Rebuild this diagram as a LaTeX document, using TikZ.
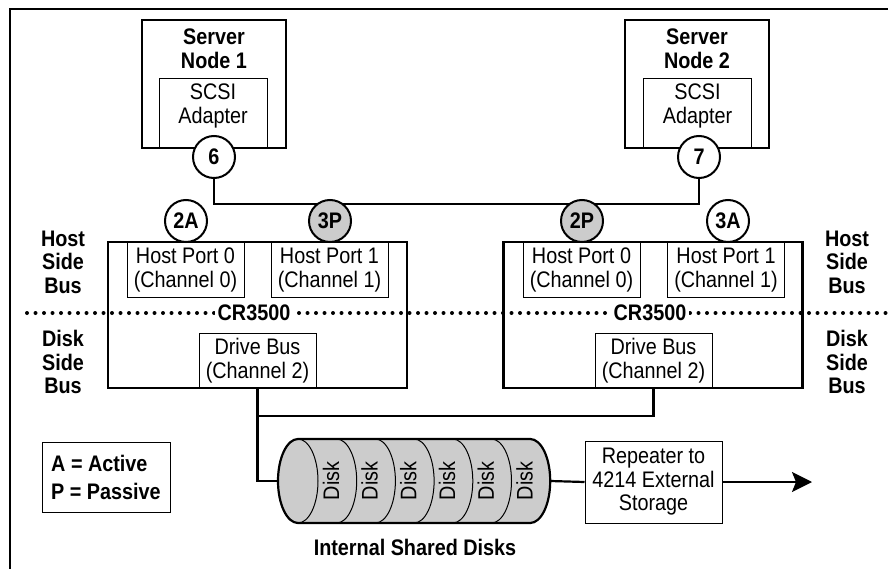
\documentclass[tikz,border=0pt]{standalone}
\usepackage{fontspec}
\setmainfont{Liberation Sans}[FakeStretch=0.88]
\usetikzlibrary{arrows.meta, positioning}
\definecolor{diskgray}{gray}{0.80}

\begin{document}
\begin{tikzpicture}[x=1pt, y=-1pt,
    every node/.style={font=\fontsize{22.5}{23.5}\selectfont, inner sep=0pt},
    lbl/.style={font=\fontsize{22.5}{23.5}\selectfont\bfseries, align=center},
    txt/.style={align=center},
    srvbox/.style={draw, line width=2.2pt, minimum width=144pt, minimum height=128pt},
    adpbox/.style={draw, line width=1pt, minimum width=108pt, minimum height=69pt},
    ctrlbox/.style={draw, line width=2.2pt, minimum width=299pt, minimum height=146pt},
    portbox/.style={draw, line width=1pt, align=center, minimum width=117pt, minimum height=54pt},
    pcirc/.style={draw, circle, line width=2pt, minimum size=42pt, fill=white,
      font=\fontsize{22.5}{23.5}\selectfont\bfseries},
    pcircp/.style={pcirc, fill=diskgray},
    busline/.style={line width=2.2pt},
    dotline/.style={line width=4pt, dash pattern=on 0pt off 8.5pt, line cap=round}]

  \useasboundingbox (0,0) rectangle (888,569);
  \draw[line width=2.2pt] (10,569) -- (10,9) -- (888,9);

  % server nodes
  \node[srvbox] (srv1) at (214,84) {};
  \node[lbl] (srv1t) at (214,49) {Server\\Node 1};
  \node[adpbox] (adp1) at (213,113.5) {};
  \node[txt] (adp1t) at (213,106) {SCSI\\Adapter};
  \node[srvbox] (srv2) at (697,84) {};
  \node[lbl] (srv2t) at (697,49) {Server\\Node 2};
  \node[adpbox] (adp2) at (697.5,113.5) {};
  \node[txt] (adp2t) at (697.5,106) {SCSI\\Adapter};

  % controllers
  \node[ctrlbox] (ctrl1) at (257.5,315) {};
  \node[ctrlbox] (ctrl2) at (653,315) {};
  \node[portbox] (hp10) at (185.5,270) {Host Port 0\\(Channel 0)};
  \node[portbox] (hp11) at (329.5,270) {Host Port 1\\(Channel 1)};
  \node[portbox] (hp20) at (581.5,270) {Host Port 0\\(Channel 0)};
  \node[portbox] (hp21) at (726,270) {Host Port 1\\(Channel 1)};
  \node[portbox, minimum height=55pt] (drv1) at (257.5,360.5) {Drive Bus\\(Channel 2)};
  \node[portbox, minimum height=55pt] (drv2) at (653.5,360.5) {Drive Bus\\(Channel 2)};

  % host side / disk side divider
  \coordinate (dotL) at (27,313);
  \coordinate (dotR) at (888,313);
  \draw[dotline] (dotL) -- (dotR);
  \node[lbl, fill=white, inner xsep=3pt] (cr1) at (254,313) {CR3500};
  \node[lbl, fill=white, inner xsep=3pt] (cr2) at (650,313) {CR3500};

  \node[lbl] (hsbL) at (63,262) {Host\\Side\\Bus};
  \node[lbl] (hsbR) at (847,262) {Host\\Side\\Bus};
  \node[lbl] (dsbL) at (63,362) {Disk\\Side\\Bus};
  \node[lbl] (dsbR) at (847,362) {Disk\\Side\\Bus};

  % scsi bus
  \coordinate (b6) at (214,204);
  \coordinate (b7) at (699,204);
  \draw[busline] (srv1.south) -- (b6) -- (b7) -- (srv2.south -| b7);
  \node[pcirc] (c6) at (214,157) {6};
  \node[pcirc] (c7) at (699,157) {7};
  \node[pcirc] (p2a) at (186,221) {2A};
  \node[pcircp] (p3p) at (330,221) {3P};
  \node[pcircp] (p2p) at (582,221) {2P};
  \node[pcirc] (p3a) at (728,221) {3A};

  % legend
  \node[draw, line width=1pt, align=left, minimum width=128pt, minimum height=70pt,
    font=\fontsize{22.5}{23.5}\selectfont\bfseries] (legend) at (106,477)
    {A = Active\\[4.5pt]P = Passive};

  % shared disks
  \filldraw[fill=diskgray, line width=2.2pt] (298,439) -- (530.2,439)
    .. controls (541.2,439) and (550.2,457.8) .. (550.2,481)
    .. controls (550.2,504.2) and (541.2,523) .. (530.2,523) -- (298,523)
    .. controls (287,523) and (278,504.2) .. (278,481)
    .. controls (278,457.8) and (287,439) .. (298,439) -- cycle;
  \foreach \i in {0,...,5} {
    \pgfmathsetmacro\cx{298+38.7*\i}
    \draw[line width=1pt] (\cx,439) .. controls (\cx+11,439) and (\cx+20,457.8) .. (\cx+20,481)
      .. controls (\cx+20,504.2) and (\cx+11,523) .. (\cx,523);
    \node[rotate=90] (d\i) at (\cx+33,481) {Disk};
  }
  \coordinate (cylW) at (278,481);
  \coordinate (cylE) at (550.2,481);
  \node[lbl] (shared) at (415,547) {Internal Shared Disks};

  \node[portbox, minimum width=137pt, minimum height=82pt] (rep) at (653.5,482)
    {Repeater to\\4214 External\\Storage};
  \coordinate (arrEnd) at (812,482);

  % disk side connectors
  \coordinate (j1) at (drv1.south |- 0,416);
  \draw[busline] (drv1.south) |- (cylW);
  \draw[busline] (drv2.south) |- (j1);
  \draw[busline] (cylE) -- (rep.west);
  \draw[busline, -{Stealth[length=20pt, width=20pt, inset=4pt]}] (rep.east) -- (arrEnd);

\end{tikzpicture}
\end{document}
